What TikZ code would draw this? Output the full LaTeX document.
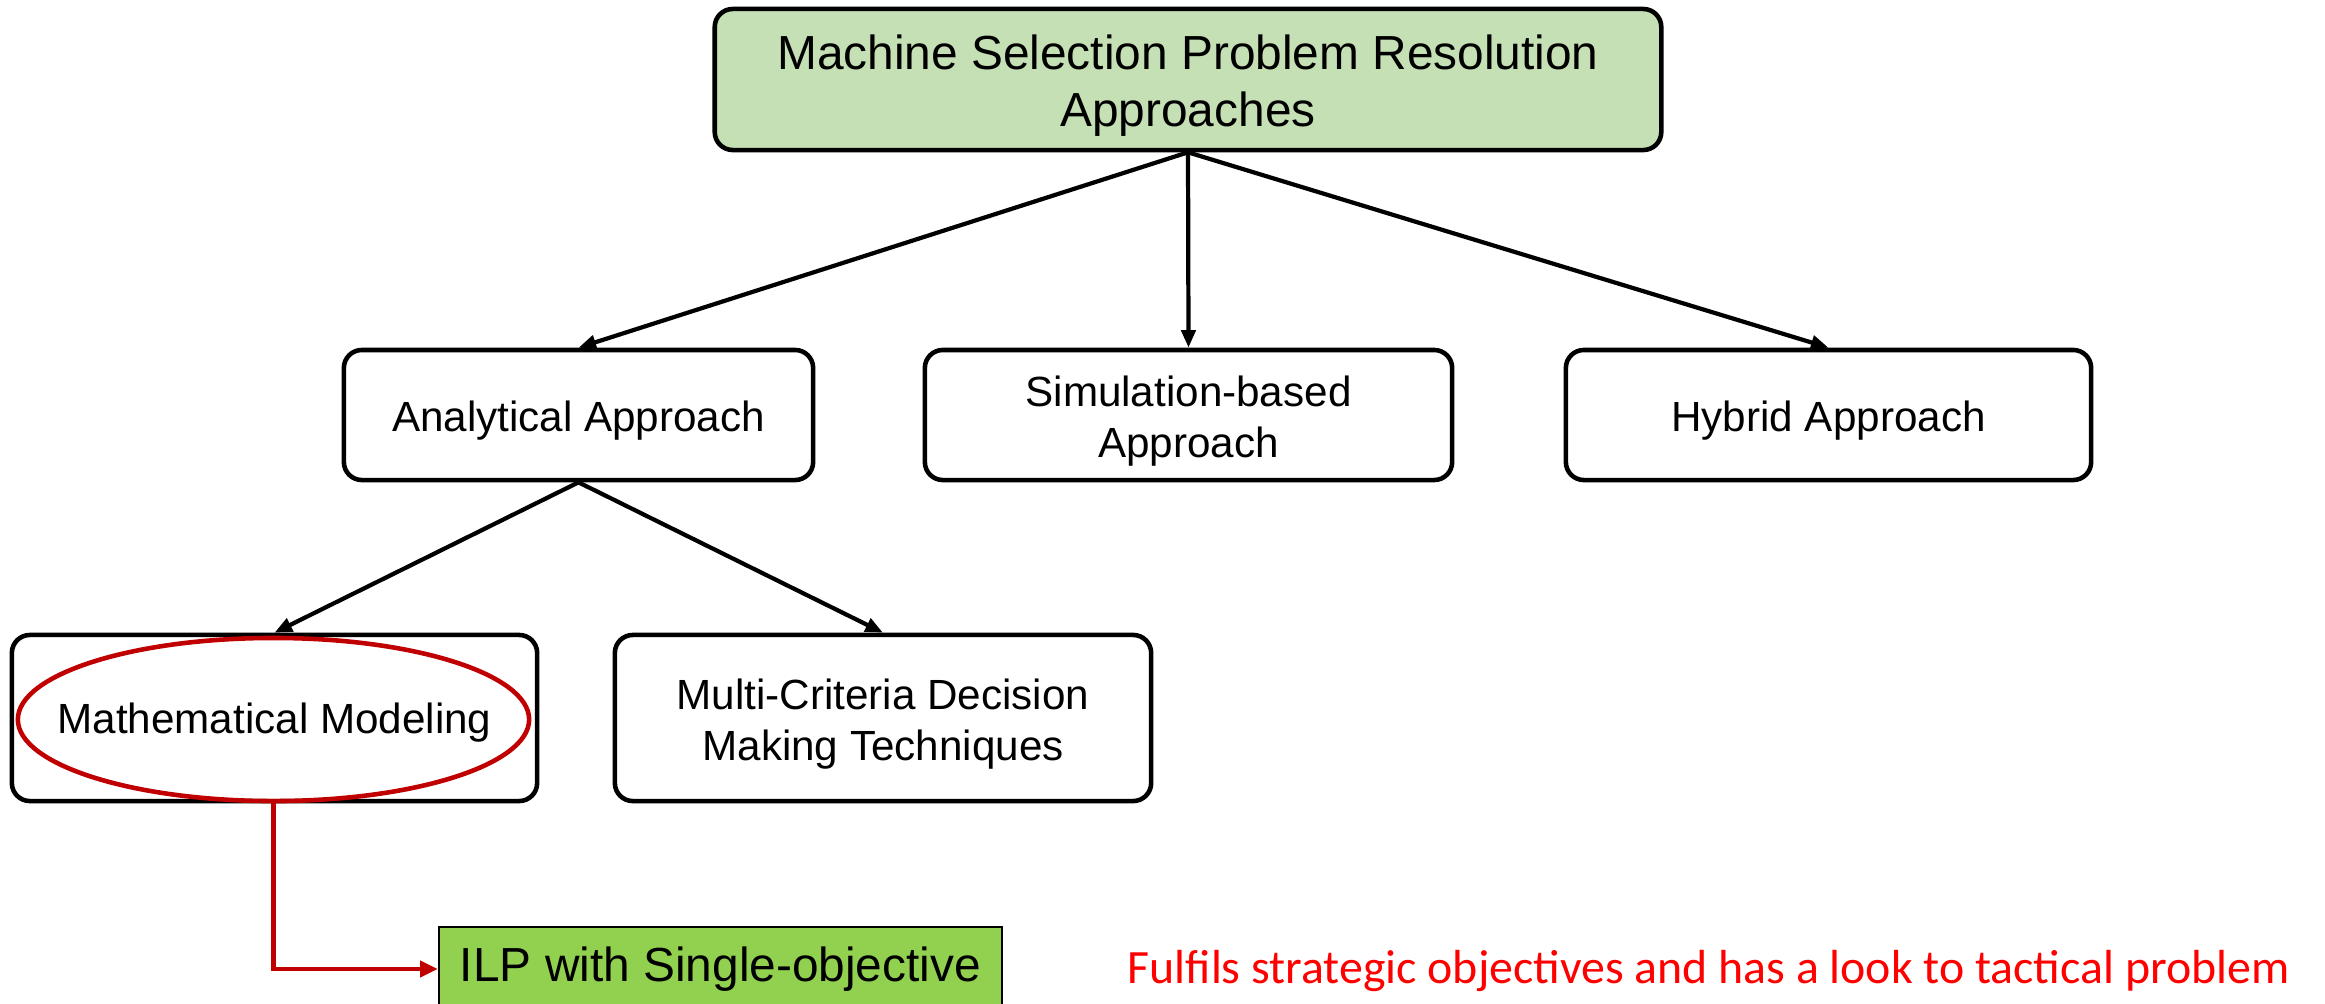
\documentclass[tikz,border=0pt]{standalone}
\usepackage{fontspec}
\setmainfont{Liberation Sans}
\newfontfamily\calib{Carlito}
\usetikzlibrary{arrows.meta,shapes.geometric}
\definecolor{topgreen}{HTML}{C5E0B4}
\definecolor{ilpgreen}{HTML}{92D050}
\definecolor{darkred}{HTML}{C00000}
\definecolor{brightred}{HTML}{FF0000}
\tikzset{
  box/.style={draw=black, line width=1.3pt, rounded corners=0.18cm, inner sep=0pt},
  boxtext/.style={align=center, font=\fontsize{12}{14.3}\selectfont, inner sep=0pt},
  conn/.style={draw=black, line width=1.2pt, -{Triangle[length=5pt,width=4pt]}},
  redconn/.style={draw=darkred, line width=1.2pt, -{Triangle[length=5pt,width=4.5pt]}},
}
\begin{document}
\begin{tikzpicture}[x=0.01cm,y=-0.01cm]
\useasboundingbox (0,0) rectangle (2325,1003);
% boxes
\node[box, fill=topgreen, minimum width=9.46cm, minimum height=1.41cm] (top) at (1188,79.5) {};
\node[box, minimum width=4.69cm, minimum height=1.30cm] (ana) at (578.5,415) {};
\node[box, minimum width=5.27cm, minimum height=1.30cm] (sim) at (1188.5,415) {};
\node[box, minimum width=5.25cm, minimum height=1.30cm] (hyb) at (1828.5,415) {};
\node[box, minimum width=5.25cm, minimum height=1.66cm] (math) at (274.5,718) {};
\node[box, minimum width=5.36cm, minimum height=1.66cm] (multi) at (883,718) {};
% texts
\node[boxtext, font=\fontsize{13.6}{16.3}\selectfont] (toptext) at ([yshift=-0.06cm]top.center)
  {Machine Selection Problem Resolution\\Approaches};
\node[boxtext] (anatext) at ([yshift=-0.06cm]ana.center) {Analytical Approach};
\node[boxtext] (simtext) at ([yshift=-0.06cm]sim.center) {Simulation-based\\Approach};
\node[boxtext] (hybtext) at ([yshift=-0.06cm]hyb.center) {Hybrid Approach};
\node[boxtext] (mathtext) at ([yshift=-0.05cm]math.center) {Mathematical Modeling};
\node[boxtext] (multitext) at ([yshift=-0.06cm]multi.center) {Multi-Criteria Decision\\Making Techniques};
% highlight ellipse
\node[draw=darkred, line width=1.3pt, ellipse, minimum width=5.11cm, minimum height=1.63cm, inner sep=0pt] (ell) at (273.5,719.5) {};
% ILP box and note
\node[draw=black, line width=0.6pt, fill=ilpgreen, minimum width=5.63cm, minimum height=0.84cm,
  inner sep=0pt, font=\fontsize{13.6}{16}\selectfont] (ilp) at (720.5,969) {\raisebox{-0.04cm}{ILP with Single-objective}};
\node[anchor=west, inner sep=0pt, text=brightred, font=\calib\fontsize{13.6}{16}\selectfont] (note) at (1127,971)
  {Fulfils strategic objectives and has a look to tactical problem};
% connectors
\draw[conn] (top.south) -- (ana.north);
\draw[conn] (top.south) -- (sim.north);
\draw[conn] (top.south) -- (hyb.north);
\draw[conn] (ana.south) -- (math.north);
\draw[conn] (ana.south) -- (multi.north);
\draw[redconn] (ell.south) |- (ilp.west);
\end{tikzpicture}
\end{document}
